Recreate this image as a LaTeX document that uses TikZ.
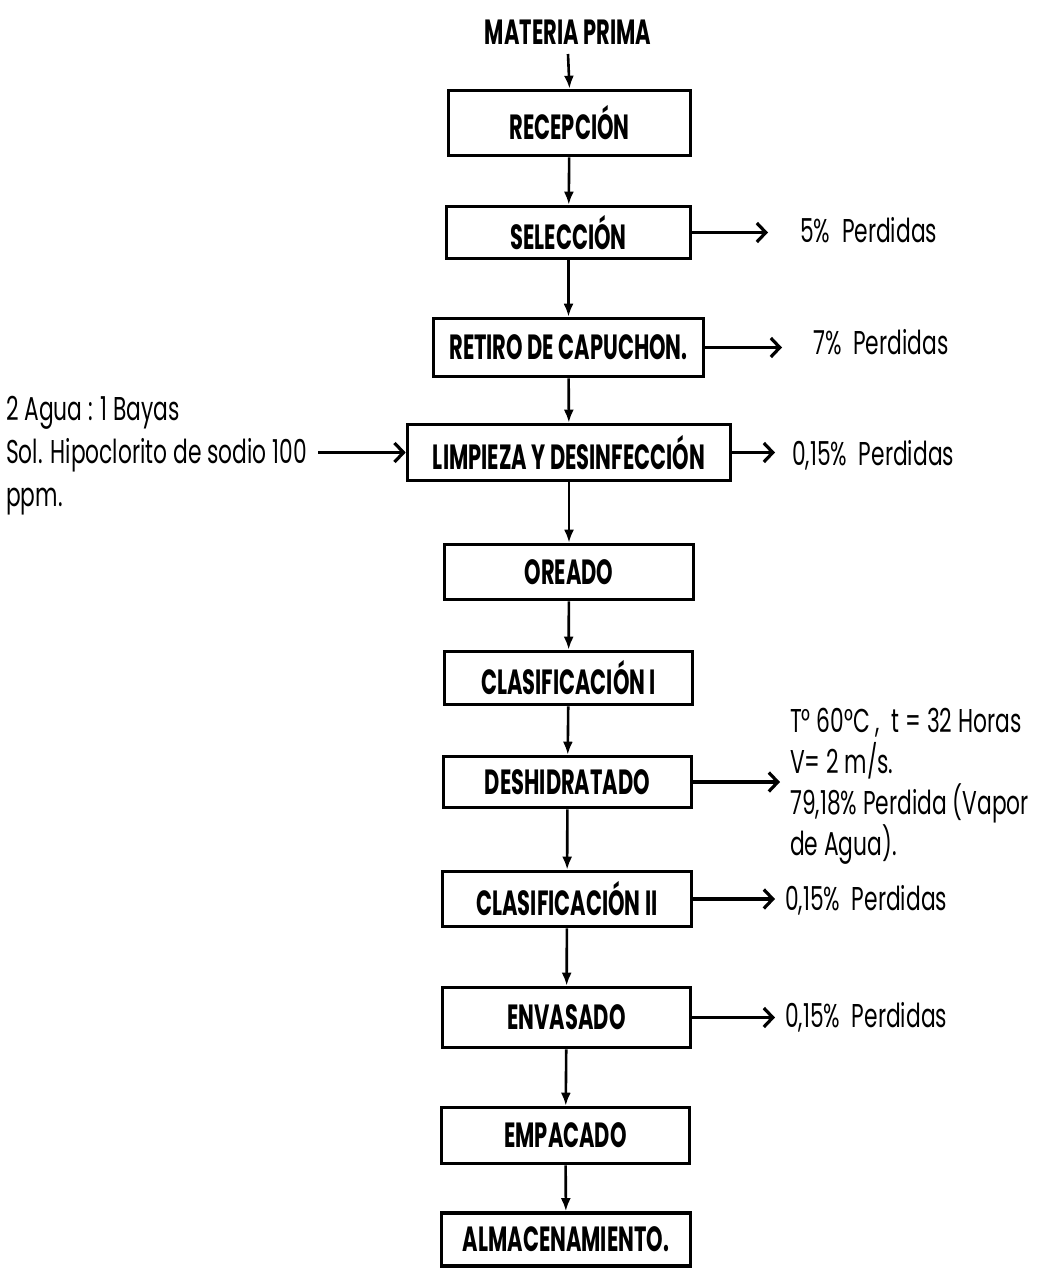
\documentclass[tikz,border=0pt]{standalone}
\usepackage{fontspec}
\setmainfont{Poppins}[FakeStretch=0.66]
\newfontfamily\boxfont{Poppins}[FakeStretch=0.60]
\usetikzlibrary{arrows.meta}
\begin{document}
\begin{tikzpicture}[x=1pt,y=-1pt,
  stepbox/.style={draw, line width=3.6pt, inner sep=0pt, minimum width=#1, font=\boxfont\bfseries\fontsize{35}{38}\selectfont},
  stepbox/.default=248pt,
  down/.style={line width=2.6pt, -{Latex[length=13pt,width=10pt]}},
  side/.style={line width=3.4pt, -{Straight Barb[length=9pt,width=19pt,line width=3.2pt]}},
  note/.style={font=\fontsize{33}{41}\selectfont, inner sep=0pt, anchor=west, align=left},
  title/.style={font=\boxfont\bfseries\fontsize{35}{38}\selectfont, inner sep=0pt}
]
\useasboundingbox (0,0) rectangle (1039,1272);

\node[title] (mp) at (568,32) {MATERIA PRIMA};
\coordinate (mpb) at (568,54);

\node[stepbox=242pt, minimum height=65pt] (s1) at (569.5,123) {RECEPCIÓN};
\node[stepbox=244pt, minimum height=52pt] (s2) at (568.5,232.5) {SELECCIÓN};
\node[stepbox=270pt, minimum height=58pt] (s3) at (568.5,347.5) {RETIRO DE CAPUCHON.};
\node[stepbox=323pt, minimum height=56pt] (s4) at (569,452.5) {LIMPIEZA Y DESINFECCIÓN};
\node[stepbox=249pt, minimum height=55pt] (s5) at (569,572) {OREADO};
\node[stepbox=248pt, minimum height=53pt] (s6) at (568.5,678) {CLASIFICACIÓN I};
\node[stepbox=248pt, minimum height=51pt] (s7) at (567.5,782) {DESHIDRATADO};
\node[stepbox=249pt, minimum height=55pt] (s8) at (567,899) {CLASIFICACIÓN II};
\node[stepbox=248pt, minimum height=60pt] (s9) at (566.5,1017.5) {ENVASADO};
\node[stepbox=248pt, minimum height=56pt] (s10) at (565.5,1135.5) {EMPACADO};
\node[stepbox=249pt, minimum height=53pt] (s11) at (566,1239.5) {ALMACENAMIENTO.};

\draw[down] (mpb) -- (s1.north);
\draw[down] (s1) -- (s2);
\draw[down] (s2) -- (s3);
\draw[down] (s3) -- (s4);
\draw[down] (s4) -- (s5);
\draw[down] (s5) -- (s6);
\draw[down] (s6) -- (s7);
\draw[down] (s7) -- (s8);
\draw[down] (s8) -- (s9);
\draw[down] (s9) -- (s10);
\draw[down] (s10) -- (s11);

% side outputs
\coordinate (e2) at (768,232.5);
\coordinate (e3) at (782,347.5);
\coordinate (e4) at (775,452.5);
\coordinate (e7) at (780,782);
\coordinate (e8) at (775,899);
\coordinate (e9) at (775,1017.5);
\draw[side] (s2.east) -- (e2);
\draw[side] (s3.east) -- (e3);
\draw[side] (s4.east) -- (e4);
\draw[side] (s7.east) -- (e7);
\draw[side] (s8.east) -- (e8);
\draw[side] (s9.east) -- (e9);

\node[note] (t2) at (800,230) {5\%\ \ Perdidas};
\node[note] (t3) at (813,342) {7\%\ \ Perdidas};
\node[note] (t4) at (792,455) {0,15\%\ \ Perdidas};
\node[note] (t7) at (790,786) {T° 60°C ,\ \ t = 32 Horas\\V= 2 m/s.\\79,18\% Perdida (Vapor\\de Agua).};
\node[note] (t8) at (785,900) {0,15\%\ \ Perdidas};
\node[note] (t9) at (785,1017) {0,15\%\ \ Perdidas};

% input
\node[note, font=\fontsize{33}{43}\selectfont] (in) at (6,456) {2 Agua : 1 Bayas\\Sol. Hipoclorito de sodio 100\\ppm.};
\coordinate (inA) at (318,452.5);
\draw[side] (inA) -- (s4.west);
\end{tikzpicture}
\end{document}
